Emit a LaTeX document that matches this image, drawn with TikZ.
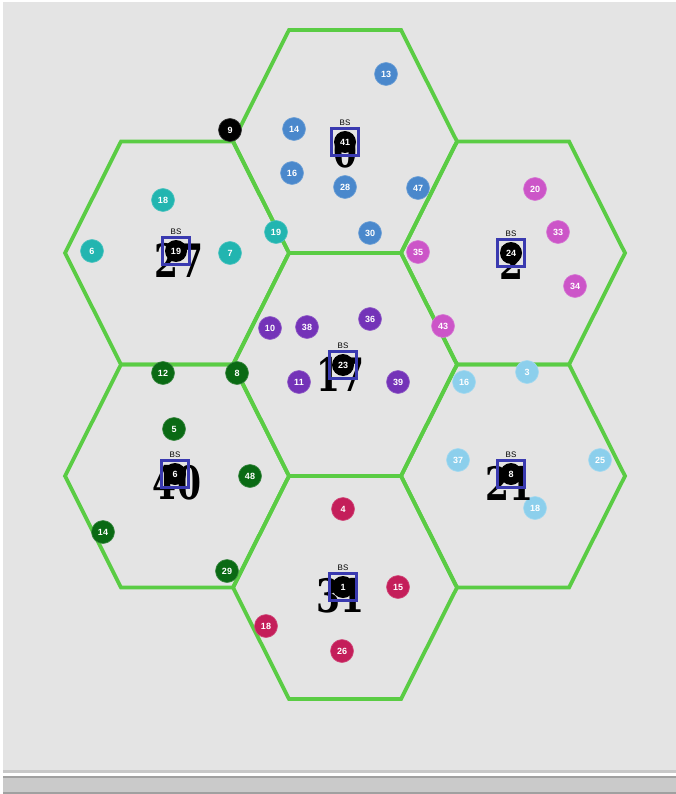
\documentclass[tikz,border=0pt]{standalone}
\usepackage{fontspec}
\setsansfont{Liberation Sans}
\newfontfamily\bignumfont{DejaVu Serif}
\definecolor{bg}{HTML}{E4E4E4}
\definecolor{hexg}{HTML}{5ACC44}
\definecolor{cblue}{HTML}{4A88CC}
\definecolor{cteal}{HTML}{22B5B0}
\definecolor{cmag}{HTML}{CC55C8}
\definecolor{cpurp}{HTML}{7433B8}
\definecolor{cgreen}{HTML}{0A6A14}
\definecolor{csky}{HTML}{8CCFEC}
\definecolor{ccrim}{HTML}{C41E5A}
\definecolor{boxb}{HTML}{3A3AB0}
\definecolor{barA}{HTML}{C8C8C8}
\definecolor{barB}{HTML}{A0A0A0}
\definecolor{barC}{HTML}{CACACA}
\newcommand\hexat[2]{%
  \draw[hexline] ({#1-112},{#2}) -- ({#1-56},{#2-111.5}) -- ({#1+56},{#2-111.5})
    -- ({#1+112},{#2}) -- ({#1+56},{#2+111.5}) -- ({#1-56},{#2+111.5}) -- cycle;}
\newcommand\basest[6]{% name, x, y, disc label, big label, big dx
  \node[bignum] (#1big) at ({#2+#6},{#3+9}) {#5};
  \node[bsdisc] (#1) at ({#2},{#3}) {#4};
  \node[bsbox] (#1box) at ({#2},{#3}) {};
  \node[bslab] (#1lab) at ({#2},{#3-19}) {BS};}
\begin{document}
\begin{tikzpicture}[x=1pt,y=-1pt,
  hexline/.style={draw=hexg, line width=3.8pt, line join=miter},
  ue/.style={circle, fill=#1, draw=#1!80!white, line width=0.6pt, text=white, inner sep=0pt,
    minimum size=23pt, font=\sffamily\bfseries\fontsize{9}{9}\selectfont},
  bsdisc/.style={circle, fill=black, text=white, inner sep=0pt, minimum size=22pt,
    font=\sffamily\bfseries\fontsize{9}{9}\selectfont},
  bsbox/.style={rectangle, draw=boxb, line width=2.6pt, minimum width=27pt, minimum height=27pt, inner sep=0pt},
  bslab/.style={inner sep=0pt, font=\sffamily\fontsize{8}{8}\selectfont},
  bignum/.style={inner sep=0pt, xscale=0.75, transform shape,
    font=\bignumfont\bfseries\fontsize{46}{46}\selectfont}]
\useasboundingbox (0,0) rectangle (676,794);
\fill[white] (0,0) rectangle (676,794);
\fill[bg] (3,2) rectangle (676,770);
\fill[barA] (3,770) rectangle (676,773);
\fill[white] (3,773) rectangle (676,776);
\fill[barB] (3,776) rectangle (676,778);
\fill[barC] (3,778) rectangle (676,792);
\fill[barB] (3,792) rectangle (676,794);
% hexagonal cells
\hexat{345}{141.5}
\hexat{177}{253}
\hexat{513}{253}
\hexat{345}{364.5}
\hexat{177}{476}
\hexat{513}{476}
\hexat{345}{587.5}
% top cell (blue)
\node[ue=cblue] (t13) at (386,74) {13};
\node[ue=cblue] (t14) at (294,129) {14};
\node[ue=cblue] (t16) at (292,173) {16};
\node[ue=cblue] (t28) at (345,187) {28};
\node[ue=cblue] (t47) at (418,188) {47};
\node[ue=cblue] (t30) at (370,233) {30};
\node[ue=black] (k9) at (230,130) {9};
% upper-left cell (teal)
\node[ue=cteal] (l18) at (163,200) {18};
\node[ue=cteal] (l6) at (92,251) {6};
\node[ue=cteal] (l7) at (230,253) {7};
\node[ue=cteal] (l19) at (276,232) {19};
% upper-right cell (magenta)
\node[ue=cmag] (r20) at (535,189) {20};
\node[ue=cmag] (r33) at (558,232) {33};
\node[ue=cmag] (r34) at (575,286) {34};
\node[ue=cmag] (r35) at (418,252) {35};
\node[ue=cmag] (r43) at (443,326) {43};
% centre cell (purple)
\node[ue=cpurp] (c10) at (270,328) {10};
\node[ue=cpurp] (c38) at (307,327) {38};
\node[ue=cpurp] (c36) at (370,319) {36};
\node[ue=cpurp] (c11) at (299,382) {11};
\node[ue=cpurp] (c39) at (398,382) {39};
% lower-left cell (dark green)
\node[ue=cgreen] (g12) at (163,373) {12};
\node[ue=cgreen] (g8) at (237,373) {8};
\node[ue=cgreen] (g5) at (174,429) {5};
\node[ue=cgreen] (g48) at (250,476) {48};
\node[ue=cgreen] (g14) at (103,532) {14};
\node[ue=cgreen] (g29) at (227,571) {29};
% lower-right cell (sky blue)
\node[ue=csky] (s16) at (464,382) {16};
\node[ue=csky] (s3) at (527,372) {3};
\node[ue=csky] (s37) at (458,460) {37};
\node[ue=csky] (s25) at (600,460) {25};
\node[ue=csky] (s18) at (535,508) {18};
% bottom cell (crimson)
\node[ue=ccrim] (m4) at (343,509) {4};
\node[ue=ccrim] (m15) at (398,587) {15};
\node[ue=ccrim] (m18) at (266,626) {18};
\node[ue=ccrim] (m26) at (342,651) {26};
% base stations
\basest{bsT}{345}{142}{41}{0}{0}
\basest{bsUL}{176}{251}{19}{27}{3}
\basest{bsUR}{511}{253}{24}{2}{0}
\basest{bsC}{343}{365}{23}{17}{-3}
\basest{bsLL}{175}{474}{6}{40}{2}
\basest{bsLR}{511}{474}{8}{21}{-2}
\basest{bsB}{343}{587}{1}{31}{-3}
\end{tikzpicture}
\end{document}
